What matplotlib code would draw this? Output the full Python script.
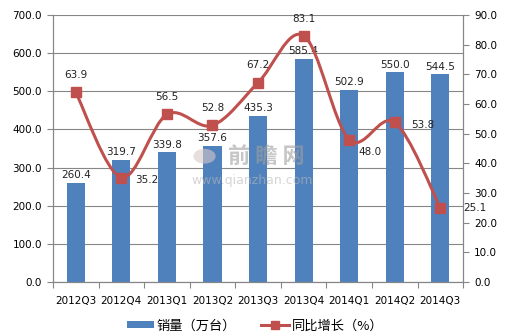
import matplotlib
matplotlib.use('Agg')
import matplotlib.pyplot as plt
import numpy as np
from matplotlib.path import Path
from matplotlib.patches import PathPatch, Patch, Circle
from matplotlib.lines import Line2D

plt.rcParams['font.family'] = ['DejaVu Sans', 'Noto Sans CJK SC']

quarters = ['2012Q3', '2012Q4', '2013Q1', '2013Q2', '2013Q3', '2013Q4', '2014Q1', '2014Q2', '2014Q3']
sales = [260.4, 319.7, 339.8, 357.6, 435.3, 585.4, 502.9, 550.0, 544.5]
growth = [63.9, 35.2, 56.5, 52.8, 67.2, 83.1, 48.0, 53.8, 25.1]
# where each growth label sits relative to its marker (points)
growth_offsets = [(0, 9), (18, -2), (0, 9), (0, 9), (0, 9), (0, 8), (15, -9), (20, -2), (25, 0)]

bar_color = '#4F81BD'
line_color = '#C0504D'
grid_color = '#868686'

fig = plt.figure(figsize=(5.05, 3.36), dpi=100)
ax = fig.add_axes([0.105, 0.161, 0.812, 0.794])
ax2 = ax.twinx()

x = np.arange(len(quarters))
ax.bar(x, sales, width=0.4, color=bar_color, zorder=2)
for xi, v in zip(x, sales):
    ax.annotate(f'{v:.1f}', (xi, v), xytext=(0, 2), textcoords='offset points',
                ha='center', va='bottom', fontsize=7.5, color='#222222', zorder=3)

ax.set_xlim(-0.5, len(quarters) - 0.5)
ax.set_ylim(0, 700)
ax.set_yticks(np.arange(0, 701, 100))
ax.set_yticklabels([f'{v:.1f}' for v in np.arange(0, 701, 100)])
ax.yaxis.grid(True, color=grid_color, linewidth=0.8, zorder=0)
ax.set_axisbelow(True)
ax.set_xticks(x)
ax.set_xticklabels(quarters)
ax.set_xticks(np.arange(-0.5, len(quarters), 1), minor=True)
ax.tick_params(axis='x', which='major', length=0, pad=10, labelsize=7.5)
ax.tick_params(axis='x', which='minor', length=4, color=grid_color, width=0.8)
ax.tick_params(axis='y', length=4, color=grid_color, width=0.8, labelsize=7.5, pad=4)

ax2.set_ylim(0, 90)
ax2.set_yticks(np.arange(0, 91, 10))
ax2.set_yticklabels([f'{v:.1f}' for v in np.arange(0, 91, 10)])
ax2.tick_params(axis='y', length=4, color=grid_color, width=0.8, labelsize=7.5, pad=4)

for a in (ax, ax2):
    a.spines['top'].set_visible(False)
    for side in ('left', 'right', 'bottom'):
        a.spines[side].set_color(grid_color)
        a.spines[side].set_linewidth(0.8)

# watermark
fig.patches.append(Circle((0.405, 0.535), 0.022, transform=fig.transFigure,
                          facecolor='#d8c8c8', edgecolor='none', alpha=0.6, zorder=1.5))
fig.text(0.528, 0.533, '前 瞻 网', fontsize=16, color='#a0a0a0', alpha=0.6,
         family=['Noto Sans CJK SC'], ha='center', va='center', fontweight='bold', zorder=1.6)
fig.text(0.50, 0.464, 'www.qianzhan.com', fontsize=9, color='#b8b8b8', alpha=0.6,
         ha='center', va='center', zorder=1.6)

# smoothed growth line (Catmull-Rom style bezier through the points)
pts = np.column_stack([x, growth]).astype(float)
verts = [tuple(pts[0])]
codes = [Path.MOVETO]
t = 1 / 6
for i in range(len(pts) - 1):
    p0 = pts[i - 1] if i > 0 else pts[i]
    p1 = pts[i]
    p2 = pts[i + 1]
    p3 = pts[i + 2] if i + 2 < len(pts) else pts[i + 1]
    c1 = p1 + (p2 - p0) * t
    c2 = p2 - (p3 - p1) * t
    verts += [tuple(c1), tuple(c2), tuple(p2)]
    codes += [Path.CURVE4] * 3
ax2.add_patch(PathPatch(Path(verts, codes), facecolor='none', edgecolor=line_color,
                        linewidth=2.2, zorder=4))
ax2.plot(x, growth, linestyle='none', marker='s', markersize=7, color=line_color, zorder=5)
for xi, v, off in zip(x, growth, growth_offsets):
    ax2.annotate(f'{v:.1f}', (xi, v), xytext=off, textcoords='offset points',
                 ha='center', va='bottom' if off[1] > 0 else 'center',
                 fontsize=7.5, color='#222222', zorder=6)

handles = [Patch(facecolor=bar_color, edgecolor='none'),
           Line2D([0], [0], color=line_color, linewidth=2.2, marker='s', markersize=6)]
fig.legend(handles, ['销量（万台）', '同比增长（%）'], loc='center', bbox_to_anchor=(0.505, 0.03),
           ncol=2, frameon=False, prop={'family': ['Noto Sans CJK SC'], 'size': 9.5},
           handlelength=2.1, handleheight=0.5, columnspacing=1.9, handletextpad=0.2)

fig.savefig('out.png', dpi=100)
